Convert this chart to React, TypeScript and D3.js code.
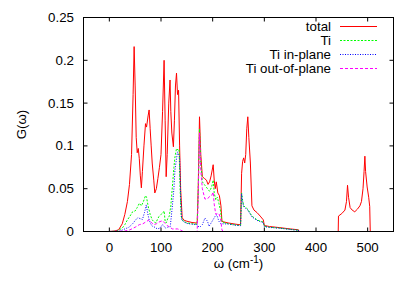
import * as React from "react";
import * as d3 from "d3";

// phonon DOS: [omega (cm^-1), G(omega)]
const totalPts: [number, number][] = [
  [0, 0], [10, 0.0005], [18, 0.002], [25, 0.009], [30, 0.02], [35, 0.035], [39, 0.055], [43, 0.09],
  [46, 0.16], [48, 0.216], [50, 0.17], [52, 0.11], [54, 0.092], [56, 0.097], [58, 0.085], [60, 0.065],
  [62, 0.051], [64, 0.07], [67, 0.1], [70, 0.126], [72, 0.122], [75, 0.135], [77, 0.142], [79, 0.12],
  [81, 0.1], [83, 0.08], [86, 0.06], [88, 0.045], [91, 0.05], [94, 0.062], [97, 0.075], [100, 0.09],
  [103, 0.14], [106, 0.2], [108, 0.13], [110, 0.064], [112, 0.09], [115, 0.15], [117.5, 0.177],
  [119, 0.14], [121, 0.115], [124, 0.099], [126, 0.13], [128, 0.17], [130, 0.185], [132, 0.16],
  [134, 0.165], [136, 0.1], [138, 0.05], [141, 0.016], [145, 0.013], [150, 0.012], [160, 0.0105],
  [170, 0.0098], [172, 0.05], [174.5, 0.134], [177, 0.09], [180, 0.064], [184, 0.062], [188, 0.06],
  [191, 0.055], [194, 0.058], [197, 0.065], [201, 0.078], [203, 0.06], [205, 0.05], [207, 0.058],
  [210, 0.045], [213, 0.042], [216, 0.03], [218, 0.0117], [230, 0.01], [245, 0.0085], [254, 0.0078],
  [256, 0.068], [258, 0.082], [260, 0.086], [262, 0.08], [264, 0.09], [266, 0.12], [268, 0.134],
  [270, 0.11], [273, 0.08], [276, 0.03], [280, 0.025], [286, 0.022], [292, 0.018], [298, 0.0136],
  [300, 0.007], [310, 0.0058], [330, 0.0045], [350, 0.003], [366, 0.002], [367, 0], [443, 0],
  [443.5, 0.018], [450, 0.021], [456, 0.025], [459, 0.035], [461, 0.054], [463, 0.04], [466, 0.028],
  [470, 0.025], [475, 0.023], [480, 0.026], [485, 0.03], [488, 0.035], [491, 0.05], [493, 0.07],
  [494.6, 0.088], [496, 0.07], [499, 0.052], [502, 0.04], [504, 0.029], [505, 0], [510, 0],
];

const tiPts: [number, number][] = [
  [0, 0], [15, 0.0005], [25, 0.004], [30, 0.008], [35, 0.0136], [40, 0.018], [45, 0.023], [50, 0.024],
  [54, 0.028], [58, 0.033], [62, 0.03], [66, 0.035], [70, 0.042], [72, 0.04], [75, 0.03], [79, 0.02],
  [83, 0.0136], [87, 0.011], [90, 0.01], [93, 0.014], [96, 0.0175], [100, 0.02], [104, 0.022],
  [106, 0.024], [108, 0.012], [110, 0.01], [113, 0.015], [116, 0.018], [119, 0.03], [122, 0.052],
  [125, 0.075], [127, 0.087], [130, 0.097], [133, 0.095], [135, 0.096], [137, 0.05], [139, 0.0175],
  [143, 0.012], [150, 0.01], [160, 0.009], [170, 0.0085], [172, 0.045], [174.5, 0.12], [177, 0.08],
  [180, 0.058], [185, 0.054], [190, 0.05], [194, 0.047], [198, 0.052], [201, 0.06], [203, 0.045],
  [206, 0.037], [209, 0.04], [212, 0.033], [215, 0.025], [218, 0.011], [230, 0.009], [245, 0.0075],
  [254, 0.007], [256, 0.045], [258, 0.036], [260, 0.03], [264, 0.028], [268, 0.026], [272, 0.022],
  [276, 0.018], [286, 0.0136], [292, 0.012], [298, 0.011], [300, 0.006], [310, 0.005], [330, 0.004],
  [350, 0.0025], [366, 0.0015], [367, 0],
];

const inPlanePts: [number, number][] = [
  [0, 0], [20, 0.0005], [30, 0.003], [38, 0.005], [45, 0.009], [51, 0.0136], [55, 0.016], [60, 0.015],
  [64, 0.014], [68, 0.022], [71.5, 0.031], [74, 0.022], [77, 0.0136], [80, 0.009], [83.5, 0.006],
  [88, 0.005], [93, 0.003], [98, 0.004], [103, 0.008], [106, 0.006], [109, 0.004], [113, 0.005],
  [118, 0.006], [122, 0.03], [125, 0.05], [127, 0.072], [130, 0.085], [132, 0.093], [134, 0.09],
  [136, 0.087], [138, 0.04], [140, 0.0136], [145, 0.011], [150, 0.0095], [160, 0.0085], [170, 0.008],
  [172, 0.006], [175, 0.005], [180, 0.008], [185, 0.0156], [190, 0.012], [193, 0.006], [197, 0.01],
  [201, 0.014], [205, 0.018], [208, 0.0195], [212, 0.012], [216, 0.009], [218, 0.009], [230, 0.0088],
  [245, 0.0073], [254, 0.0068], [256, 0.044], [258, 0.035], [260, 0.029], [264, 0.027], [268, 0.025],
  [272, 0.021], [276, 0.017], [286, 0.013], [292, 0.0115], [298, 0.0105], [300, 0.0058], [310, 0.0048],
  [330, 0.0038], [350, 0.0024], [366, 0.0014], [367, 0],
];

const outPlanePts: [number, number][] = [
  [0, 0], [30, 0.0005], [40, 0.002], [50, 0.005], [58, 0.008], [65, 0.009], [70, 0.011], [77, 0.0136],
  [82, 0.01], [86, 0.008], [91, 0.009], [96, 0.011], [100, 0.012], [103, 0.0126], [107, 0.01],
  [112, 0.007], [117, 0.005], [122, 0.003], [128, 0.003], [132, 0.003], [137, 0.002], [141, 0.0005],
  [145, 0], [170, 0], [172, 0.04], [174.5, 0.115], [177, 0.072], [180, 0.05], [185, 0.038], [190, 0.038],
  [194, 0.041], [198, 0.042], [201, 0.046], [203, 0.032], [206, 0.02], [209, 0.021], [212, 0.021],
  [215, 0.016], [218, 0.002], [220, 0], [367, 0],
];

const xTicks = [0, 100, 200, 300, 400, 500];
const yTicks = [0, 0.05, 0.1, 0.15, 0.2, 0.25];

const series = [
  { name: "total", pts: totalPts, color: "#ff0000", dash: "" },
  { name: "Ti", pts: tiPts, color: "#00ff00", dash: "2,1.5" },
  { name: "Ti in-plane", pts: inPlanePts, color: "#0000ff", dash: "1,1.5" },
  { name: "Ti out-of-plane", pts: outPlanePts, color: "#ff00ff", dash: "3,2" },
];

const W = 415, H = 291;
const left = 83.5, right = 393.5, top = 17.5, bottom = 231.5;
const font = "'Liberation Sans', Arial, sans-serif";
const fs = 13.3;

const App = () => {
  const x = d3.scaleLinear().domain([-50, 550]).range([left, right]);
  const y = d3.scaleLinear().domain([0, 0.25]).range([bottom, top]);
  const line = d3
    .line<[number, number]>()
    .x(d => x(d[0]))
    .y(d => y(d[1]));

  return (
    <svg width={W} height={H} style={{ position: "absolute", left: 0, top: 0 }} fontFamily={font}>
      <defs>
        <clipPath id="plot">
          <rect x={left} y={top} width={right - left} height={bottom - top} />
        </clipPath>
      </defs>
      <rect width={W} height={H} fill="#fff" />

      {/* ticks, inward on all four sides */}
      {xTicks.map(t => (
        <g key={"x" + t}>
          <line x1={x(t)} x2={x(t)} y1={bottom} y2={bottom - 4} stroke="#000" />
          <line x1={x(t)} x2={x(t)} y1={top} y2={top + 4} stroke="#000" />
          <text x={x(t)} y={252} textAnchor="middle" fontSize={fs}>{t}</text>
        </g>
      ))}
      {yTicks.map(t => (
        <g key={"y" + t}>
          <line x1={left} x2={left + 4} y1={y(t)} y2={y(t)} stroke="#000" />
          <line x1={right} x2={right - 4} y1={y(t)} y2={y(t)} stroke="#000" />
          <text x={74} y={y(t) + 4.5} textAnchor="end" fontSize={fs}>{t}</text>
        </g>
      ))}

      <g clipPath="url(#plot)">
        {series.map(s => (
          <path
            key={s.name}
            d={line(s.pts) || ""}
            fill="none"
            stroke={s.color}
            strokeWidth={1}
            strokeDasharray={s.dash || undefined}
          />
        ))}
      </g>

      <rect x={left} y={top} width={right - left} height={bottom - top} fill="none" stroke="#000" />

      {/* legend */}
      {series.map((s, i) => (
        <g key={"l" + s.name}>
          <text x={331} y={31 + i * 14} textAnchor="end" fontSize={fs}>{s.name}</text>
          <line x1={340} x2={377} y1={26.5 + i * 14} y2={26.5 + i * 14} stroke={s.color}
            strokeDasharray={s.dash || undefined} />
        </g>
      ))}

      <text transform={`translate(26,${(top + bottom) / 2}) rotate(-90)`} textAnchor="middle" fontSize={fs}>
        G(ω)
      </text>
      <text x={(left + right) / 2} y={268} textAnchor="middle" fontSize={fs}>
        ω (cm<tspan dy={-5} fontSize={10}>-1</tspan><tspan dy={5}>)</tspan>
      </text>
    </svg>
  );
};

export default App;
